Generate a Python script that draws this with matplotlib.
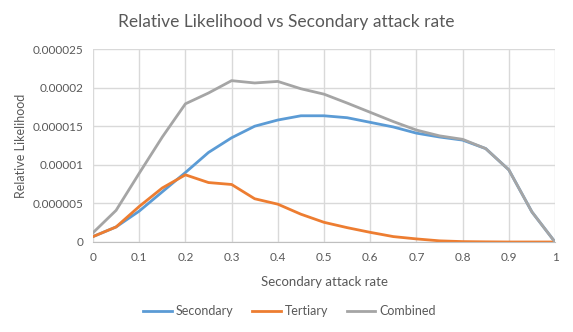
import numpy as np
import matplotlib.pyplot as plt
from matplotlib.ticker import FuncFormatter

plt.rcParams['font.family'] = ['Lato', 'DejaVu Sans']

rate = [0, 0.05, 0.1, 0.15, 0.2, 0.25, 0.3, 0.35, 0.4, 0.45, 0.5,
        0.55, 0.6, 0.65, 0.7, 0.75, 0.8, 0.85, 0.9, 0.95, 1.0]
secondary = [0.7, 1.95, 4.0, 6.5, 9.0, 11.6, 13.5, 15.0, 15.8, 16.35, 16.35,
             16.1, 15.5, 14.9, 14.1, 13.6, 13.2, 12.1, 9.35, 3.9, 0.0]
tertiary = [0.7, 1.95, 4.6, 7.0, 8.7, 7.7, 7.45, 5.6, 4.9, 3.6, 2.55,
            1.86, 1.25, 0.7, 0.4, 0.15, 0.05, 0.02, 0.0, 0.0, 0.0]
combined = [1.2, 4.1, 8.9, 13.6, 17.9, 19.3, 20.9, 20.6, 20.8, 19.85, 19.15,
            18.0, 16.8, 15.6, 14.5, 13.75, 13.3, 12.1, 9.35, 3.9, 0.0]
# values read in units of 1e-6
secondary = np.array(secondary) * 1e-6
tertiary = np.array(tertiary) * 1e-6
combined = np.array(combined) * 1e-6

txt = '#595959'
fig = plt.figure(figsize=(5.73, 3.32), dpi=100)
ax = fig.add_axes([0.1623, 0.2711, 0.8063, 0.5813])

ax.plot(rate, secondary, color='#5B9BD5', lw=2, label='Secondary')
ax.plot(rate, tertiary, color='#ED7D31', lw=2, label='Tertiary')
ax.plot(rate, combined, color='#A5A5A5', lw=2, label='Combined')

ax.set_xlim(0, 1)
ax.set_ylim(0, 0.000025)
ax.set_xticks(np.arange(0, 1.01, 0.1))
ax.set_yticks(np.arange(0, 0.0000251, 0.000005))
ax.xaxis.set_major_formatter(FuncFormatter(lambda v, p: '0' if v == 0 else ('1' if abs(v - 1) < 1e-9 else f'{v:.1f}')))
ax.yaxis.set_major_formatter(FuncFormatter(lambda v, p: '0' if v == 0 else f'{v:.6f}'.rstrip('0')))
ax.grid(True, color='#D9D9D9', lw=1)
ax.set_axisbelow(True)
for s in ['top', 'right', 'left']:
    ax.spines[s].set_visible(False)
ax.spines['bottom'].set_color('#BFBFBF')
ax.tick_params(length=0, labelsize=8.5, colors=txt, pad=7)

ax.set_xlabel('Secondary attack rate', fontsize=9.5, color=txt, va='center')
ax.xaxis.set_label_coords(0.5, -0.205)
ax.set_ylabel('Relative Likelihood', fontsize=9, color=txt, va='center')
ax.yaxis.set_label_coords(-0.155, 0.5)
fig.suptitle('Relative Likelihood vs Secondary attack rate', fontsize=12.5, color=txt, y=0.935, va='center')

fig.legend(loc='center', bbox_to_anchor=(0.505, 0.062), ncol=3, frameon=False,
           fontsize=9, labelcolor=txt, handlelength=2.3, columnspacing=1.5, handletextpad=0.3)

fig.savefig('out.png', dpi=100)
